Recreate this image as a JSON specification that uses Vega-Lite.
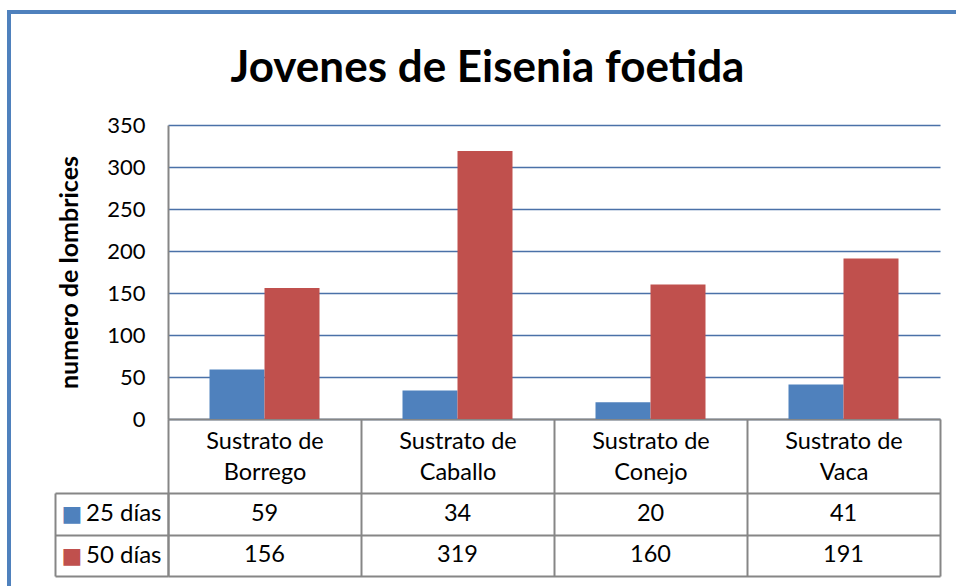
{
  "$schema": "https://vega.github.io/schema/vega-lite/v6.json",
  "width": 951,
  "height": 578,
  "autosize": {"type": "none"},
  "padding": {"left": 9, "top": 12, "right": -4, "bottom": -4},
  "background": "white",
  "config": {
    "view": {"stroke": "#4F81BD", "strokeWidth": 4},
    "font": "Lato",
    "axisX": {
      "orient": "bottom", "offset": -171, "title": null,
      "domainColor": "#868686", "domainWidth": 2,
      "ticks": true, "tickBand": "extent", "tickSize": 157, "tickColor": "#868686", "tickWidth": 2,
      "labelPadding": -147, "labelAngle": 0, "labelBaseline": "top",
      "labelFont": "Lato", "labelFontSize": 23.5, "labelLineHeight": 31, "labelColor": "black",
      "labelOverlap": false, "labelBound": false, "grid": false
    }
  },
  "title": {
    "text": "Jovenes de Eisenia foetida",
    "font": "Lato",
    "fontSize": 44,
    "fontWeight": "bold",
    "color": "black",
    "anchor": "middle",
    "frame": "group",
    "baseline": "alphabetic",
    "offset": -126,
    "dx": 3
  },
  "data": {
    "values": [
      {"sustrato": "Sustrato de Borrego", "serie": "25 días", "valor": 59},
      {"sustrato": "Sustrato de Caballo", "serie": "25 días", "valor": 34},
      {"sustrato": "Sustrato de Conejo", "serie": "25 días", "valor": 20},
      {"sustrato": "Sustrato de Vaca", "serie": "25 días", "valor": 41},
      {"sustrato": "Sustrato de Borrego", "serie": "50 días", "valor": 156},
      {"sustrato": "Sustrato de Caballo", "serie": "50 días", "valor": 319},
      {"sustrato": "Sustrato de Conejo", "serie": "50 días", "valor": 160},
      {"sustrato": "Sustrato de Vaca", "serie": "50 días", "valor": 191}
    ]
  },
  "resolve": {"scale": {"y": "independent"}, "axis": {"y": "independent"}},
  "layer": [
    {
      "mark": {"type": "bar"},
      "encoding": {
        "x": {
          "field": "sustrato", "type": "nominal", "sort": null,
          "scale": {"range": [159, 931], "paddingInner": 0, "paddingOuter": 0},
          "axis": {"labelExpr": "datum.label ? ['Sustrato de', replace(datum.label, 'Sustrato de ', '')] : ''"}
        },
        "xOffset": {
          "field": "serie", "type": "nominal",
          "scale": {"paddingInner": 0, "paddingOuter": 0.7545}
        },
        "y": {
          "field": "valor", "type": "quantitative",
          "scale": {"domain": [0, 350], "range": [407, 113], "nice": false, "zero": true},
          "axis": {
            "orient": "left", "offset": -159, "values": [0, 50, 100, 150, 200, 250, 300, 350],
            "grid": true, "gridColor": "#4A71A8", "gridWidth": 1.5,
            "domainColor": "#868686", "domainWidth": 2, "ticks": false,
            "labelPadding": 23, "labelFont": "Lato", "labelFontSize": 22, "labelColor": "black",
            "title": "numero de lombrices", "titleFont": "Lato", "titleFontSize": 25,
            "titleFontWeight": "bold", "titleColor": "black", "titlePadding": 24
          }
        },
        "color": {
          "field": "serie", "type": "nominal",
          "scale": {"domain": ["25 días", "50 días"], "range": ["#4F81BD", "#C0504D"]},
          "legend": null
        }
      }
    },
    {
      "mark": {"type": "text", "font": "Lato", "fontSize": 23.5, "color": "black", "align": "center", "baseline": "middle"},
      "encoding": {
        "x": {
          "field": "sustrato", "type": "nominal", "sort": null,
          "axis": {"labelExpr": "datum.label ? ['Sustrato de', replace(datum.label, 'Sustrato de ', '')] : ''"}
        },
        "y": {
          "field": "serie", "type": "nominal",
          "scale": {"domain": ["25 días", "50 días"], "range": [481, 564], "paddingInner": 0, "paddingOuter": 0},
          "axis": {
            "orient": "left", "offset": -159, "title": null,
            "domain": true, "domainColor": "#868686", "domainWidth": 2,
            "ticks": true, "tickBand": "extent", "tickSize": 113, "tickColor": "#868686", "tickWidth": 2,
            "grid": true, "gridColor": "#868686", "gridWidth": 2,
            "labelPadding": -106, "labelAlign": "right", "labelBaseline": "middle",
            "labelFont": "Lato", "labelFontSize": 24, "labelColor": "black"
          }
        },
        "text": {"field": "valor", "type": "quantitative"}
      }
    },
    {
      "mark": {"type": "text", "opacity": 0},
      "encoding": {
        "x": {
          "field": "sustrato", "type": "nominal", "sort": null,
          "axis": {"labelExpr": "datum.label ? ['Sustrato de', replace(datum.label, 'Sustrato de ', '')] : ''"}
        },
        "y": {
          "field": "serie", "type": "nominal",
          "scale": {"domain": ["25 días", "50 días"], "range": [481, 564], "paddingInner": 0, "paddingOuter": 0},
          "axis": {
            "orient": "left", "offset": -46, "title": null,
            "domain": true, "domainColor": "#868686", "domainWidth": 2,
            "ticks": false, "grid": false,
            "labelExpr": "'■'", "labelAlign": "left", "labelPadding": -6, "labelBaseline": "middle",
            "labelFont": "DejaVu Sans", "labelFontSize": 22,
            "labelColor": {"condition": {"test": "datum.value === '25 días'", "value": "#4F81BD"}, "value": "#C0504D"}
          }
        },
        "text": {"field": "serie", "type": "nominal"}
      }
    }
  ]
}
